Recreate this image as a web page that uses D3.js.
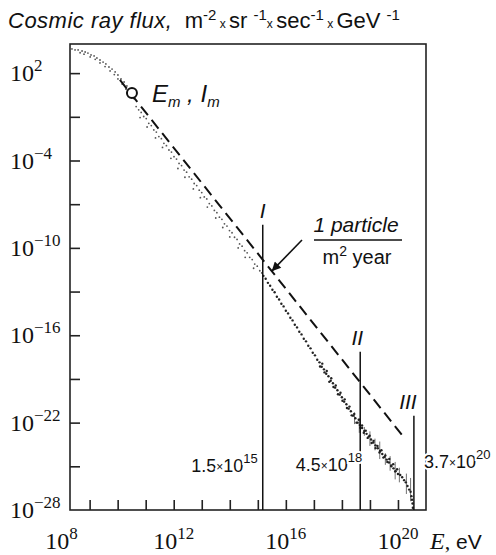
<!DOCTYPE html>
<html>
<head>
<meta charset="utf-8">
<script src="https://cdn.jsdelivr.net/npm/d3@7"></script>
<style>
  body { margin: 0; background: #fff; }
  svg text { font-family: Arial, "Liberation Sans", sans-serif; fill: #111; white-space: pre; }
  .serif { font-family: "Liberation Serif", "Times New Roman", serif; }
</style>
</head>
<body>
<svg width="496" height="555"></svg>
<script>
var svg = d3.select('svg');

// Values, log10(E / eV) and log10(flux)
// upper part of the spectrum, up to the knee
var curveLogE = [8.37, 8.48, 8.59, 8.73, 8.84, 8.94, 9.05, 9.16, 9.26, 9.37, 9.48, 9.58, 9.69, 9.80, 9.91,
  10.01, 10.12, 10.23, 10.33, 10.44, 10.55,
  8.66, 8.80, 9.02, 9.20, 9.37, 9.55, 9.73, 9.88, 10.01, 10.16, 10.30, 10.45, 10.58,
  10.66, 10.75, 10.84, 10.93, 11.02, 11.11, 11.20, 11.29, 11.38, 11.47, 11.56, 11.65, 11.74, 11.83, 11.92,
  12.01, 12.10, 12.19, 12.28, 12.37, 12.46, 12.55, 12.64, 12.73, 12.82, 12.91, 13.00, 13.09, 13.18, 13.27,
  13.36, 13.45, 13.54, 13.63, 13.72, 13.81, 13.90, 13.99, 14.08, 14.17, 14.26, 14.35, 14.44, 14.53, 14.62,
  14.71, 14.80, 14.89, 14.98, 15.07, 15.14,
  10.80, 11.05, 11.35, 11.60, 11.90, 12.15, 12.40, 12.70, 12.95, 13.20, 13.50, 13.75, 14.00, 14.30, 14.55, 14.85];
var curveLogF = [3.66, 3.59, 3.59, 3.52, 3.45, 3.38, 3.25, 3.18, 3.04, 2.90, 2.76, 2.63, 2.42, 2.28, 2.08,
  1.87, 1.60, 1.39, 1.12, 0.84, 0.50,
  3.40, 3.30, 3.11, 2.95, 2.70, 2.45, 2.15, 1.90, 1.60, 1.25, 0.90, 0.55, 0.25,
  -0.30, -0.52, -0.70, -0.98, -1.12, -1.45, -1.60, -1.90, -2.05, -2.36, -2.50, -2.82, -2.98, -3.28, -3.42,
  -3.74, -3.90, -4.20, -4.35, -4.66, -4.80, -5.12, -5.28, -5.58, -5.72, -6.04, -6.20, -6.50, -6.64, -6.96,
  -7.12, -7.43, -7.58, -7.89, -8.04, -8.35, -8.50, -8.81, -8.96, -9.27, -9.42, -9.73, -9.88, -10.19, -10.34,
  -10.65, -10.80, -11.11, -11.26, -11.57, -11.72,
  -1.05, -1.70, -2.45, -3.10, -3.85, -4.55, -5.15, -5.95, -6.55, -7.20, -7.95, -8.60, -9.25, -10.00, -10.65, -11.40];

// knee to the end of the spectrum (denser, darker band)
var bandLogE = [15.20, 15.28, 15.36, 15.44, 15.52, 15.60, 15.68, 15.76, 15.84, 15.92, 16.00, 16.08, 16.16, 16.24,
  16.32, 16.40, 16.48, 16.56, 16.64, 16.72, 16.80, 16.88, 16.96, 17.04, 17.12, 17.20, 17.28, 17.36, 17.44,
  17.52, 17.60, 17.68, 17.76, 17.84, 17.92, 18.00, 18.08, 18.16, 18.24, 18.32, 18.40, 18.48, 18.56,
  17.22, 17.30, 17.38, 17.46, 17.55, 17.62, 17.70, 17.78, 17.86, 17.95, 18.02, 18.10, 18.18, 18.27, 18.35,
  18.44, 18.52, 18.60, 18.66, 18.72, 18.78, 18.85, 18.92, 18.99, 19.06, 19.13, 19.20, 19.27, 19.34, 19.41,
  19.48, 19.55, 19.62, 19.69, 19.76, 19.83, 19.90, 19.97,
  18.64, 18.72, 18.80, 18.88, 18.96, 19.04, 19.12, 19.20, 19.28, 19.36, 19.44, 19.52, 19.60, 19.68, 19.76,
  19.84, 19.92, 20.00,
  20.08, 20.15, 20.22, 20.28, 20.34, 20.40, 20.45, 20.48, 20.50, 20.52, 20.53];
var bandLogF = [-11.92, -12.12, -12.40, -12.60, -12.88, -13.05, -13.36, -13.55, -13.84, -14.02, -14.32, -14.50,
  -14.80, -14.98, -15.28, -15.46, -15.76, -15.94, -16.24, -16.42, -16.72, -16.90, -17.20, -17.38, -17.68,
  -17.86, -18.16, -18.34, -18.64, -18.82, -19.12, -19.30, -19.60, -19.78, -20.08, -20.26, -20.56, -20.74,
  -21.04, -21.22, -21.52, -21.70, -22.00,
  -18.15, -17.95, -18.55, -18.45, -19.20, -18.95, -19.55, -19.45, -20.05, -19.95, -20.50, -20.40, -21.00,
  -20.90, -21.50, -21.40, -22.00, -21.80, -22.35, -22.20, -22.70, -22.55, -23.05, -22.90, -23.40, -23.25,
  -23.75, -23.60, -24.05, -23.90, -24.40, -24.25, -24.70, -24.50, -25.00, -24.85, -25.35, -25.20,
  -22.17, -22.37, -22.57, -22.77, -22.96, -23.16, -23.36, -23.56, -23.76, -23.95, -24.15, -24.35, -24.54,
  -24.74, -24.94, -25.14, -25.33, -25.53,
  -25.60, -25.75, -25.95, -26.10, -26.35, -26.60, -26.75, -27.05, -27.30, -27.55, -27.85];

// error bars in the highest energy part
var errLogE = [18.45, 18.62, 18.80, 19.00, 19.18, 19.35, 19.55, 19.72, 19.90, 20.05, 20.30, 20.45];
var errLogF = [-21.7, -22.2, -22.6, -23.1, -23.5, -23.9, -24.5, -24.8, -25.3, -25.6, -26.2, -26.6];
var errHalf = [0.4, 0.5, 0.3, 0.5, 0.4, 0.6, 0.4, 0.5, 0.6, 0.5, 0.7, 0.8];

// dashed reference line and the (Em, Im) point
var fitLogE = [10.08, 20.14];
var fitLogF = [1.53, -22.84];
var peakLogE = 10.51, peakLogF = 0.64;

// the three marked energies
var cutNames = ['I', 'II', 'III'];
var cutMant = ['1.5', '4.5', '3.7'];
var cutExp = [15, 18, 20];
var cutTopLogF = [-8.42, -17.14, -21.53];

var xTickExp = [9, 10, 11, 12, 13, 14, 15, 16, 17, 18, 19, 20];
var xLabelExp = [8, 12, 16, 20];
var yTickExp = [2, -1, -4, -7, -10, -13, -16, -19, -22, -25];
var yLabelExp = [2, -4, -10, -16, -22, -28];

function p10(v) { return Math.pow(10, v); }

var plot = {l: 70, r: 426, t: 44, b: 510};
var x = d3.scaleLog().domain([p10(8.3), 1e21]).range([plot.l, plot.r]);
var y = d3.scaleLog().domain([1e-28, 1e4]).range([plot.b, plot.t]);

// arrow head for the "1 particle" pointer
svg.append('defs').append('marker')
    .attr('id', 'head')
    .attr('viewBox', '0 0 10 10')
    .attr('refX', 10).attr('refY', 5)
    .attr('markerWidth', 12).attr('markerHeight', 9)
    .attr('markerUnits', 'userSpaceOnUse')
    .attr('orient', 'auto')
  .append('path')
    .attr('d', 'M0,0L10,5L0,10Z')
    .attr('fill', '#111');

// ---- title ----
var titleParts = [['Cosmic ray flux,', 'i'], ['  m', 'n'], ['-2', 's'], [' x ', 'x'], ['sr ', 'n'], ['-1', 's'],
  ['x ', 'x'], ['sec', 'n'], ['-1', 's'], [' x ', 'x'], ['GeV ', 'n'], ['-1', 's']];
var title = svg.append('text').attr('x', 8).attr('y', 28).attr('font-size', 22);
var raised = false;
titleParts.forEach(function (p) {
  var t = title.append('tspan').text(p[0]);
  if (p[1] === 'i') t.attr('font-style', 'italic').attr('letter-spacing', 0.5);
  if (p[1] === 'x') t.attr('font-size', 12);
  if (p[1] === 's') { t.attr('font-size', 15).attr('dy', -8); raised = true; }
  else if (raised) { t.attr('dy', 8); raised = false; }
});

// ---- axes (ticks point inwards) ----
svg.append('g')
    .attr('transform', 'translate(0,' + plot.b + ')')
    .call(d3.axisBottom(x).tickValues(xTickExp.map(p10)).tickSize(-10).tickSizeOuter(0).tickFormat(''))
    .call(function (g) { g.select('.domain').remove(); })
    .selectAll('line').attr('stroke', '#222').attr('stroke-width', 1.6);

svg.append('g')
    .attr('transform', 'translate(' + plot.l + ',0)')
    .call(d3.axisLeft(y).tickValues(yTickExp.map(p10)).tickSize(-10).tickSizeOuter(0).tickFormat(''))
    .call(function (g) { g.select('.domain').remove(); })
    .selectAll('line').attr('stroke', '#222').attr('stroke-width', 1.6);

svg.append('rect')
    .attr('x', plot.l).attr('y', plot.t)
    .attr('width', plot.r - plot.l).attr('height', plot.b - plot.t)
    .attr('fill', 'none').attr('stroke', '#222').attr('stroke-width', 1.6);

function powLabel(sel, base, exp, expSize, rise) {
  sel.append('tspan').text(base);
  sel.append('tspan').attr('font-size', expSize).attr('dy', -rise).text(exp);
}

svg.selectAll('.ylab')
    .data(yLabelExp)
    .enter()
    .append('text')
    .attr('class', 'ylab serif')
    .attr('x', 10)
    .attr('y', function (d) { return y(p10(d)) + 8; })
    .attr('font-size', 24)
    .each(function (d) {
      powLabel(d3.select(this), '10', String(d).replace('-', '\u2212'), 17, 10);
    });

svg.selectAll('.xlab')
    .data(xLabelExp)
    .enter()
    .append('text')
    .attr('class', 'xlab serif')
    .attr('x', function (d) { return x(p10(d)); })
    .attr('y', 549)
    .attr('text-anchor', 'middle')
    .attr('font-size', 24)
    .each(function (d) {
      powLabel(d3.select(this), '10', String(d), 17, 10);
    });

var eLab = svg.append('text').attr('x', 430).attr('y', 549);
eLab.append('tspan').attr('class', 'serif').attr('font-style', 'italic').attr('font-size', 24).text('E');
eLab.append('tspan').attr('class', 'serif').attr('font-size', 22).text(',');
eLab.append('tspan').attr('font-size', 21).text(' eV');

// ---- data ----
var curve = curveLogE.map(function (e, i) { return [e, curveLogF[i]]; });
var band = bandLogE.map(function (e, i) { return [e, bandLogF[i]]; });

svg.append('g').selectAll('circle')
    .data(curve)
    .enter()
    .append('circle')
    .attr('cx', function (d) { return x(p10(d[0])); })
    .attr('cy', function (d) { return y(p10(d[1])); })
    .attr('r', 0.9)
    .attr('fill', '#555');

svg.append('g').selectAll('line')
    .data(errLogE)
    .enter()
    .append('line')
    .attr('x1', function (d) { return x(p10(d)); })
    .attr('x2', function (d) { return x(p10(d)); })
    .attr('y1', function (d, i) { return y(p10(errLogF[i] + errHalf[i])); })
    .attr('y2', function (d, i) { return y(p10(errLogF[i] - errHalf[i])); })
    .attr('stroke', '#333').attr('stroke-width', 0.7);

svg.append('g').selectAll('circle')
    .data(band)
    .enter()
    .append('circle')
    .attr('cx', function (d) { return x(p10(d[0])); })
    .attr('cy', function (d) { return y(p10(d[1])); })
    .attr('r', 1.2)
    .attr('fill', '#222');

var fitLine = d3.line()
    .x(function (d) { return x(p10(d)); })
    .y(function (d, i) { return y(p10(fitLogF[i])); });

svg.append('path')
    .attr('d', fitLine(fitLogE))
    .attr('fill', 'none')
    .attr('stroke', '#111')
    .attr('stroke-width', 2)
    .attr('stroke-dasharray', '11,6');

var px = x(p10(peakLogE)), py = y(p10(peakLogF));
svg.append('circle')
    .attr('cx', px).attr('cy', py).attr('r', 5)
    .attr('fill', '#fff').attr('stroke', '#111').attr('stroke-width', 2);

var emLab = svg.append('text').attr('x', px + 20).attr('y', py + 9).attr('font-size', 24).attr('font-style', 'italic');
emLab.append('tspan').text('E');
emLab.append('tspan').attr('font-size', 15).attr('dy', 5).text('m');
emLab.append('tspan').attr('dy', -5).text(' , I');
emLab.append('tspan').attr('font-size', 15).attr('dy', 5).text('m');

// ---- the three marked energies ----
cutNames.forEach(function (name, i) {
  var e = +cutMant[i] * p10(cutExp[i]);
  var cx = x(e), top = y(p10(cutTopLogF[i]));
  svg.append('line')
      .attr('x1', cx).attr('x2', cx)
      .attr('y1', top).attr('y2', plot.b)
      .attr('stroke', '#111').attr('stroke-width', 1.5);
  svg.append('text')
      .attr('x', cx - 3 * (name.length - 1))
      .attr('y', top - 7)
      .attr('text-anchor', 'middle')
      .attr('font-size', 21)
      .attr('font-style', 'italic')
      .text(name);
});

function energyLabel(i, xPos, yPos, anchor) {
  var t = svg.append('text')
      .attr('x', xPos).attr('y', yPos)
      .attr('text-anchor', anchor)
      .attr('font-size', 18)
      .attr('stroke', '#fff').attr('stroke-width', 4).attr('paint-order', 'stroke');
  t.append('tspan').text(cutMant[i]);
  t.append('tspan').attr('font-size', 12).attr('dy', -1).text('\u00d7');
  t.append('tspan').attr('dy', 1).text('10');
  t.append('tspan').attr('font-size', 13).attr('dy', -9).text(cutExp[i]);
}
energyLabel(0, x(1.5e15) - 5, 472, 'end');
energyLabel(1, x(4.5e18) + 2, 471, 'end');
energyLabel(2, x(3.7e20) + 10, 468, 'start');

// ---- "1 particle per m2 year" note ----
svg.append('text')
    .attr('x', 356).attr('y', 232)
    .attr('text-anchor', 'middle')
    .attr('font-size', 21)
    .attr('font-style', 'italic')
    .text('1 particle');
svg.append('line')
    .attr('x1', 314).attr('x2', 402).attr('y1', 240).attr('y2', 240)
    .attr('stroke', '#111').attr('stroke-width', 1.3);
var unit = svg.append('text')
    .attr('x', 357).attr('y', 264)
    .attr('text-anchor', 'middle')
    .attr('font-size', 20);
unit.append('tspan').text('m');
unit.append('tspan').attr('font-size', 14).attr('dy', -8).text('2');
unit.append('tspan').attr('dy', 8).text(' year');

svg.append('line')
    .attr('x1', 302).attr('y1', 240)
    .attr('x2', x(1.5e15) + 9).attr('y2', y(p10(-11.6)))
    .attr('stroke', '#111').attr('stroke-width', 1.6)
    .attr('marker-end', 'url(#head)');
</script>
</body>
</html>
